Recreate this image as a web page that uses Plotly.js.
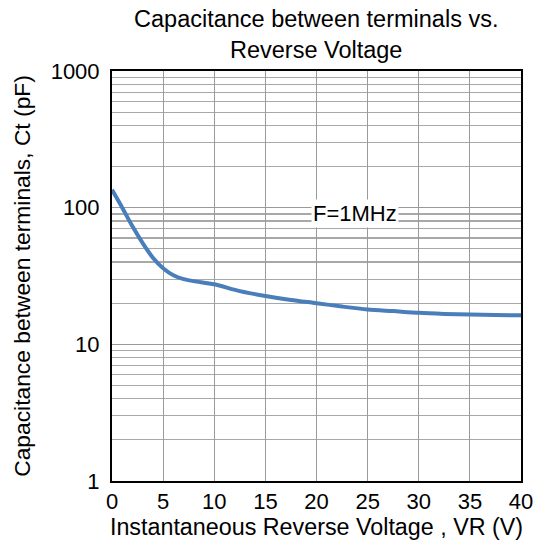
<!DOCTYPE html>
<html>
<head>
<meta charset="utf-8">
<script src="https://cdn.plot.ly/plotly-3.0.1.min.js"></script>
<style>html,body{margin:0;padding:0;background:#fff;}#chart{width:536px;height:544px;}</style>
</head>
<body>
<div id="chart"></div>
<script>
const voltage = [0, 1, 2, 3, 4, 5, 6, 7, 8, 10, 12.5, 15, 17.5, 20, 22.5, 25, 27.5, 30, 32.5, 35, 37.5, 40];
const capacitance = [135, 100, 73, 55, 43, 36, 32, 30, 29, 27.5, 24.5, 22.6, 21.1, 20, 18.9, 18.0, 17.5, 17.0, 16.7, 16.5, 16.4, 16.3];
const xTicks = [0, 5, 10, 15, 20, 25, 30, 35, 40];
const yTicks = [1, 10, 100, 1000];
const noteText = "F=1MHz";
const noteX = 23.8;
const noteY = 91;

const font = "Arial, Liberation Sans, sans-serif";
const data = [{
  x: voltage, y: capacitance, type: 'scatter', mode: 'lines',
  line: {color: '#4a7ebb', width: 4, shape: 'spline', smoothing: 0.8},
  hoverinfo: 'skip'
}];
const layout = {
  width: 536, height: 544,
  margin: {l: 112, r: 15, t: 71, b: 63},
  paper_bgcolor: '#fff', plot_bgcolor: '#fff',
  showlegend: false,
  font: {family: font, color: '#000', size: 22},
  title: {text: 'Capacitance between terminals vs.<br>Reverse Voltage', x: 0.59, xanchor: 'center', xref: 'container', yref: 'container', y: 0.95, yanchor: 'top', font: {size: 23.5, family: font}},
  xaxis: {
    range: [0, 40], tickvals: xTicks, ticktext: xTicks.map(String),
    showgrid: true, gridcolor: '#9a9a9a', gridwidth: 1.2,
    showline: true, linecolor: '#000', linewidth: 2, mirror: true,
    ticks: '', zeroline: false, tickfont: {size: 22},
    title: {text: 'Instantaneous Reverse Voltage , VR (V)', font: {size: 23.3}, standoff: 4}
  },
  yaxis: {
    type: 'log', range: [0, 3], tickvals: yTicks, ticktext: yTicks.map(String),
    showgrid: true, gridcolor: '#9a9a9a', gridwidth: 1.2,
    minor: {dtick: 'D1', showgrid: true, gridcolor: '#a8a8a8', gridwidth: 1.2, ticks: ''},
    showline: true, linecolor: '#000', linewidth: 2, mirror: true,
    ticks: '', zeroline: false, tickfont: {size: 22}, ticklabelstandoff: 6,
    title: {text: 'Capacitance between terminals, Ct (pF)', font: {size: 22.8}, standoff: 14}
  },
  annotations: [{
    x: noteX, y: Math.log10(noteY), xref: 'x', yref: 'y', text: noteText,
    showarrow: false, bgcolor: '#fff', font: {size: 22, family: font}, borderpad: 1
  }]
};
Plotly.newPlot('chart', data, layout, {staticPlot: true, displayModeBar: false});
</script>
</body>
</html>
